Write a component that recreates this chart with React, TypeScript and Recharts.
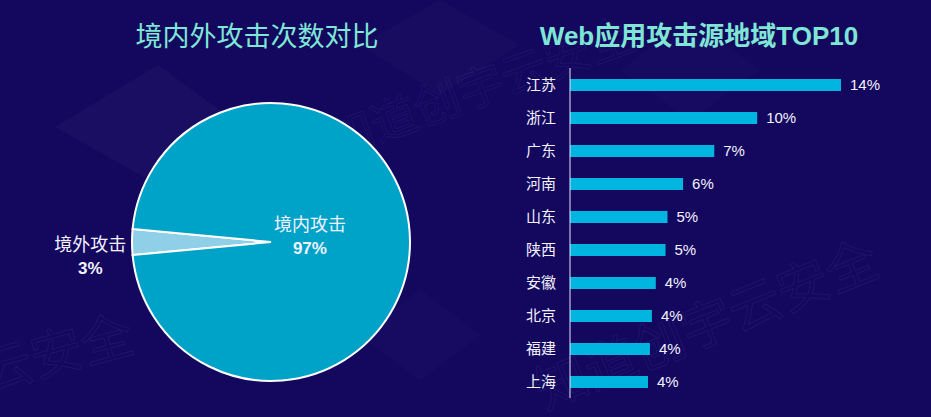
import React from "react";
import { PieChart, Pie, Cell, BarChart, Bar, XAxis, YAxis, LabelList } from "recharts";

// Domestic vs. overseas attack share
const pieNames = ["境外攻击", "境内攻击"];
const pieValues = [3, 97];
const pieColors = ["#8fd0e8", "#00a3c8"];

// Web attack source regions, top 10 (percent of attacks)
const regions = ["江苏", "浙江", "广东", "河南", "山东", "陕西", "安徽", "北京", "福建", "上海"];
const regionShares = [13.9, 9.6, 7.4, 5.8, 5.0, 4.9, 4.4, 4.2, 4.1, 4.0];

const pieTitle = "境内外攻击次数对比";
const barTitle = "Web应用攻击源地域TOP10";
const watermark = "知道创宇云安全";

const pieData = pieNames.map((name, i) => ({ name, value: pieValues[i] }));
const barData = regions.map((name, i) => ({ name, value: regionShares[i] }));

const pieTotal = pieValues.reduce((a, b) => a + b, 0);
// centre the small overseas slice on the left (180°)
const pieStart = 180 - (pieValues[0] / pieTotal) * 180;

const BG = "#13075e";
const FONT = '"Liberation Sans", "Noto Sans CJK SC", sans-serif';
const RAD = Math.PI / 180;

const renderPieLabel = (props: any) => {
  const { cx, cy, midAngle, outerRadius, name, value, index } = props;
  const outside = index === 0;
  const r = outside ? outerRadius * 1.3 : outerRadius * 0.28;
  const x = cx + r * Math.cos(-midAngle * RAD);
  const y = cy + r * Math.sin(-midAngle * RAD);
  const nameY = outside ? y + 9 : y - 11;
  return (
    <g>
      <text x={x} y={nameY} textAnchor="middle" fill="#f2f2ff" fontSize={18} fontFamily={FONT}>
        {name}
      </text>
      <text x={x} y={nameY + 23} textAnchor="middle" fill="#f2f2ff" fontSize={17} fontWeight="bold" fontFamily={FONT}>
        {`${value}%`}
      </text>
    </g>
  );
};

const Background = () => (
  <svg width={931} height={417} style={{ position: "absolute", left: 0, top: 0 }}>
    <rect width={931} height={417} fill={BG} />
    {/* faint diamond shapes */}
    <polygon points="158,65 240,125 158,185 55,127" fill="rgba(255,255,255,0.03)" />
    <polygon points="440,0 520,45 440,95 360,45" fill="rgba(255,255,255,0.025)" />
    <polygon points="690,20 760,70 690,120 620,70" fill="rgba(255,255,255,0.02)" />
    <polygon points="420,290 480,335 420,380 360,335" fill="rgba(255,255,255,0.02)" />
    {/* watermark */}
    <g fill="none" stroke="rgba(150,150,255,0.09)" strokeWidth={1} fontFamily='"Noto Sans CJK SC", sans-serif'>
      <text x={335} y={158} fontSize={46} transform="rotate(-20 335 158)">{watermark}</text>
      <text x={545} y={410} fontSize={52} transform="rotate(-22 545 410)">{watermark}</text>
      <text x={-215} y={445} fontSize={52} transform="rotate(-15 -215 445)">{watermark}</text>
    </g>
    <text x={257} y={37} textAnchor="middle" dominantBaseline="central" fill="#7fe6d6" fontSize={27} fontFamily={FONT}>
      {pieTitle}
    </text>
    <text x={699} y={36} textAnchor="middle" dominantBaseline="central" fill="#7fe6d6" fontSize={26} fontWeight="bold" fontFamily={FONT}>
      {barTitle}
    </text>
  </svg>
);

export default function App() {
  return (
    <div style={{ position: "absolute", left: 0, top: 0, width: 931, height: 417, overflow: "hidden", fontFamily: FONT }}>
      <Background />
      <div style={{ position: "absolute", left: 0, top: 0 }}>
        <PieChart width={540} height={417} margin={{ top: 0, right: 0, bottom: 0, left: 0 }}>
          <Pie
            data={pieData}
            dataKey="value"
            nameKey="name"
            cx={271}
            cy={242}
            outerRadius={139}
            startAngle={pieStart}
            endAngle={pieStart + 360}
            stroke="#ffffff"
            strokeWidth={2}
            label={renderPieLabel}
            labelLine={false}
            isAnimationActive={false}
          >
            {pieData.map((d, i) => (
              <Cell key={d.name} fill={pieColors[i]} />
            ))}
          </Pie>
        </PieChart>
      </div>
      <div style={{ position: "absolute", left: 470, top: 0 }}>
        <BarChart
          layout="vertical"
          width={461}
          height={417}
          data={barData}
          margin={{ top: 68, right: 90, bottom: 19, left: 0 }}
        >
          <XAxis type="number" hide domain={[0, "dataMax"]} />
          <YAxis
            type="category"
            dataKey="name"
            width={100}
            axisLine={{ stroke: "#e8e8ff", strokeWidth: 1 }}
            tickLine={false}
            tickSize={0}
            tickMargin={14}
            tick={{ fill: "#f2f2ff", fontSize: 15, fontFamily: FONT }}
            interval={0}
          />
          <Bar dataKey="value" fill="#00b6e0" barSize={12} isAnimationActive={false}>
            <LabelList
              dataKey="value"
              position="right"
              offset={9}
              formatter={(v: any) => `${Math.round(Number(v))}%`}
              style={{ fill: "#f2f2ff", fontSize: 15, fontFamily: FONT }}
            />
          </Bar>
        </BarChart>
      </div>
    </div>
  );
}
